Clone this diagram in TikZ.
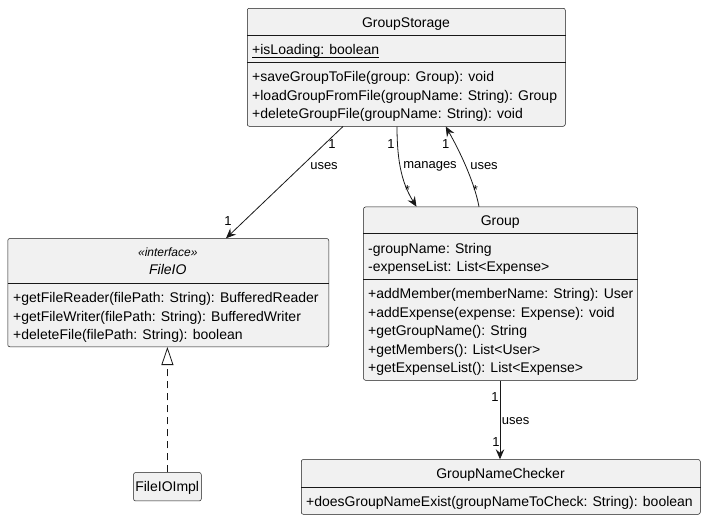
\documentclass[tikz,border=0pt]{standalone}
\usepackage{fontspec}
\setmainfont{Liberation Sans}
\usetikzlibrary{arrows.meta,calc}
\definecolor{boxfill}{HTML}{F1F1F1}
\definecolor{boxline}{HTML}{181818}
\begin{document}
\begin{tikzpicture}[x=1pt,y=-1pt,
  umlbox/.style={draw=boxline, fill=boxfill, line width=0.5pt, rounded corners=2pt, anchor=north west, inner sep=0pt},
  mem/.style={anchor=base west, inner sep=0pt, font=\fontsize{14}{16}\selectfont},
  ttl/.style={anchor=base, inner sep=0pt, font=\fontsize{14}{16}\selectfont},
  lbl/.style={inner sep=0pt, font=\fontsize{13}{15}\selectfont},
  conn/.style={draw=boxline, line width=0.8pt, -{Stealth[length=10pt,width=8.5pt,inset=3.5pt]}},
  divl/.style={draw=boxline, line width=0.5pt}]
\useasboundingbox (0,0) rectangle (706,520);

% GroupStorage
\node[umlbox, minimum width=318pt, minimum height=118pt] (gs) at (247,8) {};
\draw[divl] ([yshift=-27pt]gs.north west) -- ([yshift=-27pt]gs.north east);
\draw[divl] ([yshift=-54.3pt]gs.north west) -- ([yshift=-54.3pt]gs.north east);
\node[ttl] (gst) at (406,27) {GroupStorage};
\node[mem] (gsa) at (252,54.5) {+isLoading: boolean};
\draw[line width=0.7pt] ([yshift=-2.7pt]gsa.base west) -- ([yshift=-2.7pt]gsa.base east);
\node[mem] (gsm1) at (252,81.5) {+saveGroupToFile(group: Group): void};
\node[mem] (gsm2) at (252,100) {+loadGroupFromFile(groupName: String): Group};
\node[mem] (gsm3) at (252,118.5) {+deleteGroupFile(groupName: String): void};

% FileIO
\node[umlbox, minimum width=321pt, minimum height=108.2pt] (fio) at (7.5,238.3) {};
\draw[divl] ([yshift=-45pt]fio.north west) -- ([yshift=-45pt]fio.north east);
\node[ttl, font=\itshape\fontsize{12}{14}\selectfont] (fios) at (167.8,256) {«interface»};
\node[ttl, font=\itshape\fontsize{14}{16}\selectfont] (fiot) at (167.8,274.3) {FileIO};
\node[mem] (fiom1) at (13,302.5) {+getFileReader(filePath: String): BufferedReader};
\node[mem] (fiom2) at (13,321) {+getFileWriter(filePath: String): BufferedWriter};
\node[mem] (fiom3) at (13,339.5) {+deleteFile(filePath: String): boolean};

% Group
\node[umlbox, minimum width=274pt, minimum height=173.3pt] (grp) at (363.3,206.7) {};
\draw[divl] ([yshift=-26.6pt]grp.north west) -- ([yshift=-26.6pt]grp.north east);
\draw[divl] ([yshift=-72.3pt]grp.north west) -- ([yshift=-72.3pt]grp.north east);
\node[ttl] (grpt) at (500.3,225.7) {Group};
\node[mem] (grpa1) at (368,253) {-groupName: String};
\node[mem] (grpa2) at (368,271.5) {-expenseList: List<Expense>};
\node[mem] (grpm1) at (368,298.5) {+addMember(memberName: String): User};
\node[mem] (grpm2) at (368,317) {+addExpense(expense: Expense): void};
\node[mem] (grpm3) at (368,335.5) {+getGroupName(): String};
\node[mem] (grpm4) at (368,354) {+getMembers(): List<User>};
\node[mem] (grpm5) at (368,372.5) {+getExpenseList(): List<Expense>};

% FileIOImpl
\node[umlbox, minimum width=67.7pt, minimum height=28.4pt] (impl) at (133.3,472.3) {};
\node[ttl] (implt) at (167.2,491.3) {FileIOImpl};

% GroupNameChecker
\node[umlbox, minimum width=399pt, minimum height=54.7pt] (gnc) at (301,459.3) {};
\draw[divl] ([yshift=-28pt]gnc.north west) -- ([yshift=-28pt]gnc.north east);
\node[ttl] (gnct) at (500.5,478.3) {GroupNameChecker};
\node[mem] (gncm) at (306,506.5) {+doesGroupNameExist(groupNameToCheck: String): boolean};

% connectors
\draw[conn] ([xshift=96pt]gs.south west) -- ([xshift=218.5pt]fio.north west);
\node[lbl] (l1a) at (332,144) {1};
\node[lbl] (l1b) at (324,166) {uses};
\node[lbl] (l1c) at (228,221) {1};

\draw[conn] ([xshift=150pt]gs.south west) .. controls (397,165) and (403,185) .. ([xshift=53.2pt]grp.north west);
\node[lbl] (l2a) at (391,144) {1};
\node[lbl] (l2b) at (430,166) {manages};
\node[lbl, anchor=base] (l2c) at (407.3,194) {*};

\draw[conn] ([xshift=115.7pt]grp.north west) .. controls (474,180) and (458,148) .. ([xshift=198.7pt]gs.south west);
\node[lbl] (l3a) at (445.7,144) {1};
\node[lbl] (l3b) at (484,166) {uses};
\node[lbl, anchor=base] (l3c) at (475.3,194.5) {*};

\draw[draw=boxline, line width=0.8pt, dash pattern=on 7pt off 5pt, -{Triangle[open, length=18pt, width=12pt]}] (impl.north) -- (impl.north |- fio.south);

\draw[conn] ([xshift=136.7pt]grp.south west) -- ([xshift=199pt]gnc.north west);
\node[lbl] (l4a) at (495,396.7) {1};
\node[lbl] (l4b) at (515.7,421) {uses};
\node[lbl] (l4c) at (496,441.7) {1};
\end{tikzpicture}
\end{document}
